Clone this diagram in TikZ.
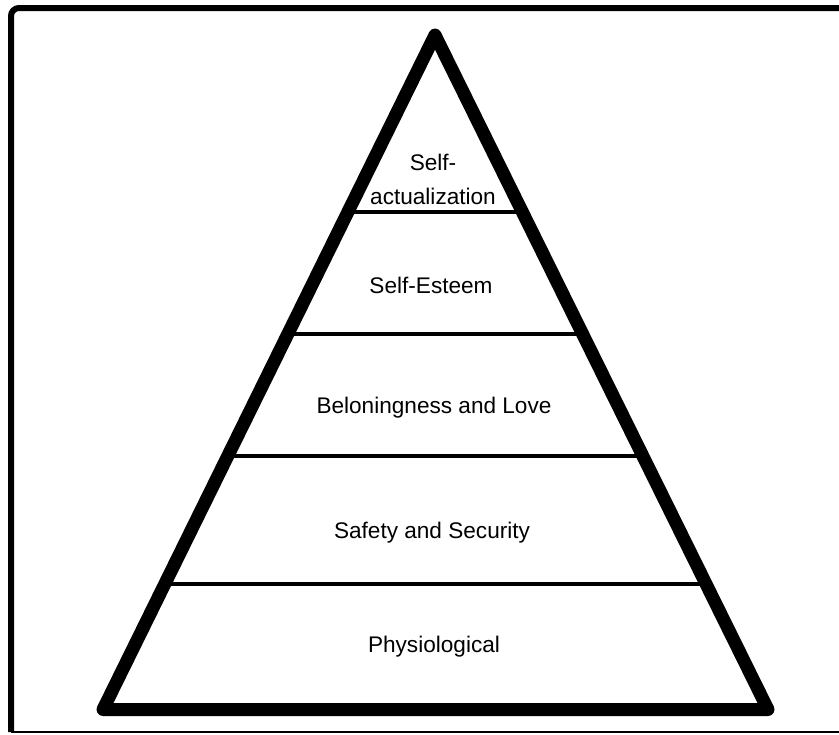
\documentclass[tikz,border=0pt]{standalone}
\usepackage{fontspec}
\setmainfont{Liberation Sans}
\usetikzlibrary{calc,positioning}

\begin{document}
\begin{tikzpicture}[x=0.5pt,y=-0.5pt,
  frame/.style={line width=3pt,rounded corners=4pt},
  pyramid/.style={line width=6.5pt,line join=round},
  level line/.style={line width=2.2pt},
  level text/.style={anchor=base,inner sep=0pt,align=center,
    font=\fontsize{11.3}{17}\selectfont}]
   \useasboundingbox (0,0) rectangle (839,734);
   % outer frame (open to the right)
   \draw[frame] (839,8) -- (11,8) -- (11,732);
   \draw[line width=1pt] (11,732) -- (839,732);
   % corners of the pyramid
   \coordinate (apex) at (435,35);
   \coordinate (bl)   at (103,709.5);
   \coordinate (br)   at (768,709.5);
   % level lines
   \foreach \t [count=\i] in {0.2624,0.4433,0.6242,0.8139}
     \coordinate (l\i) at ($(apex)!\t!(bl)$);
   \foreach \t [count=\i] in {0.2624,0.4433,0.6242,0.8139}
     \coordinate (r\i) at ($(apex)!\t!(br)$);
   \foreach \i in {1,...,4}
     \draw[level line] (l\i) -- (r\i);
   \draw[pyramid] (apex) -- (bl) -- (br) -- cycle;
   % levels
   \node[level text] (selfact) at (433,204) {Self-\\actualization};
   \node[level text] (esteem)  at (431,293) {Self-Esteem};
   \node[level text] (belong)  at (434,413) {Beloningness and Love};
   \node[level text] (safety)  at (432,538) {Safety and Security};
   \node[level text] (physio)  at (434,652) {Physiological};
\end{tikzpicture}
\end{document}
